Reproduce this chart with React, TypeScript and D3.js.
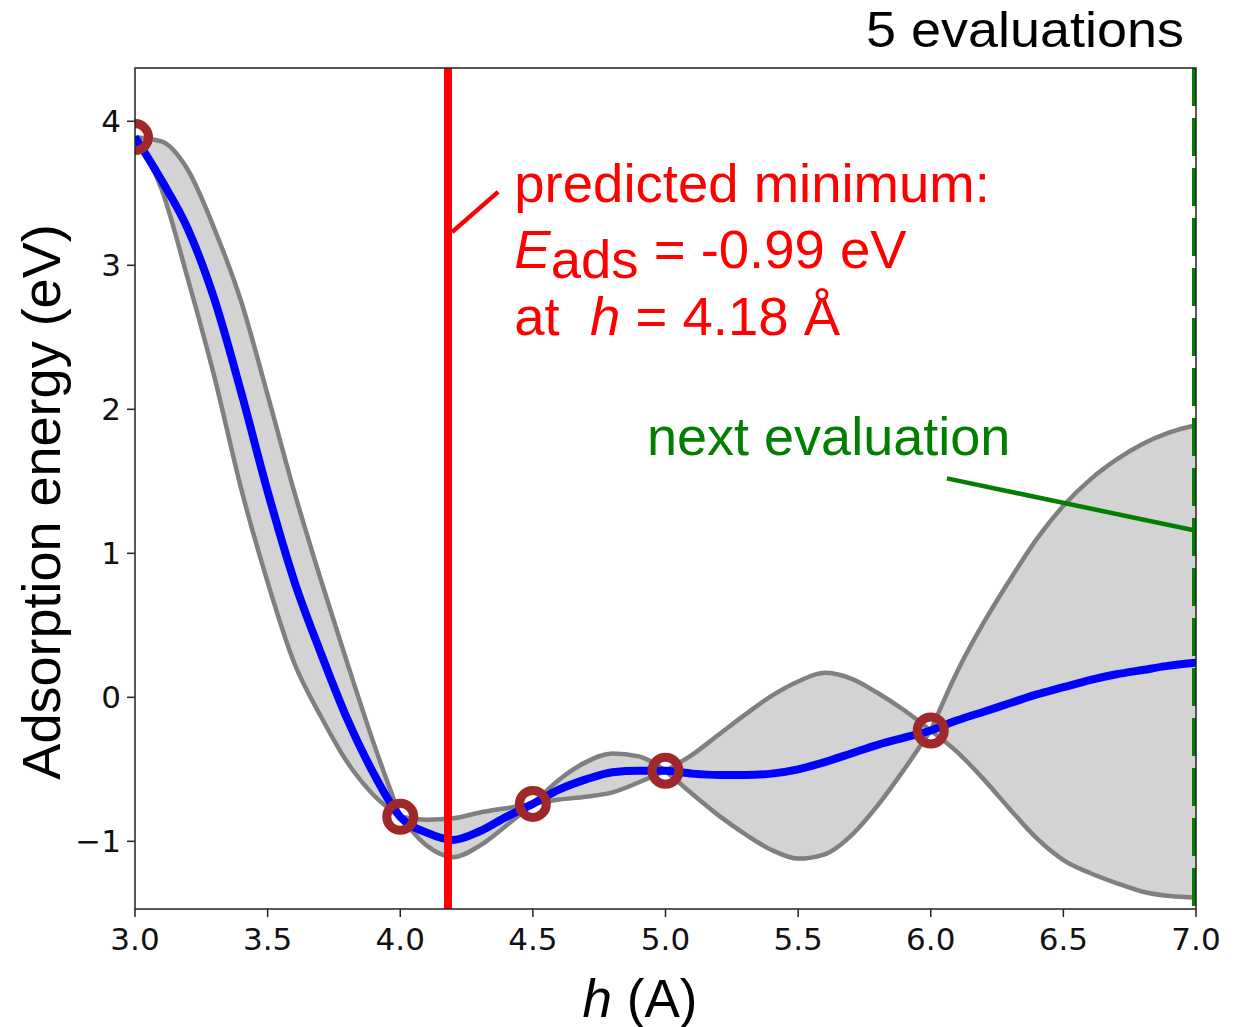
import React from 'react';
import * as d3 from 'd3';

// Grid of heights h (Å) on which the surrogate model is evaluated
const H = [
  3.0, 3.1, 3.2, 3.3, 3.4, 3.5, 3.6, 3.7, 3.8, 3.9,
  4.0, 4.1, 4.2, 4.3, 4.4, 4.5, 4.6, 4.7, 4.8, 4.9,
  5.0, 5.1, 5.2, 5.3, 5.4, 5.5, 5.6, 5.7, 5.8, 5.9,
  6.0, 6.1, 6.2, 6.3, 6.4, 6.5, 6.6, 6.7, 6.8, 6.9, 7.0,
];

// Posterior mean of the adsorption energy (eV)
const MEAN = [
  3.89, 3.59, 3.25, 2.76, 2.12, 1.43, 0.81, 0.31, -0.15, -0.53,
  -0.83, -0.94, -0.99, -0.93, -0.83, -0.74, -0.64, -0.57, -0.52, -0.51,
  -0.51, -0.53, -0.54, -0.54, -0.53, -0.50, -0.45, -0.39, -0.33, -0.28,
  -0.23, -0.16, -0.10, -0.04, 0.02, 0.07, 0.12, 0.16, 0.19, 0.22, 0.24,
];

// Upper edge of the confidence band (eV)
const UPPER = [
  3.89, 3.86, 3.66, 3.25, 2.75, 2.10, 1.43, 0.82, 0.24, -0.32,
  -0.83, -0.85, -0.84, -0.80, -0.77, -0.74, -0.57, -0.45, -0.39, -0.41,
  -0.51, -0.40, -0.26, -0.12, 0.01, 0.11, 0.17, 0.13, 0.03, -0.09,
  -0.23, 0.18, 0.52, 0.82, 1.10, 1.33, 1.51, 1.65, 1.76, 1.84, 1.89,
];

// Lower edge of the confidence band (eV)
const LOWER = [
  3.89, 3.53, 2.90, 2.22, 1.45, 0.80, 0.24, -0.13, -0.45, -0.68,
  -0.83, -1.03, -1.11, -1.03, -0.89, -0.74, -0.71, -0.69, -0.66, -0.59,
  -0.51, -0.67, -0.82, -0.95, -1.06, -1.12, -1.09, -0.96, -0.75, -0.50,
  -0.23, -0.38, -0.57, -0.78, -0.98, -1.13, -1.22, -1.29, -1.35, -1.38, -1.39,
];

// Evaluated DFT points
const OBS_H = [3.0, 4.0, 4.5, 5.0, 6.0];
const OBS_E = [3.89, -0.83, -0.74, -0.51, -0.23];

const X_TICKS = [3.0, 3.5, 4.0, 4.5, 5.0, 5.5, 6.0, 6.5, 7.0];
const Y_TICKS = [-1, 0, 1, 2, 3, 4];

const PRED_H = 4.18;
const PRED_E = -0.99;
const NEXT_H = 7.0;

const SANS = '"Liberation Sans", Arial, sans-serif';
const TICK_FONT = '"DejaVu Sans", sans-serif';

export default function App() {
  const W = 1238;
  const Ht = 1027;
  const left = 135, right = 1196, top = 68, bottom = 909;

  const x = d3.scaleLinear().domain([3, 7]).range([left, right]);
  const y = d3.scaleLinear().domain([-1.47, 4.37]).range([bottom, top]);

  // The band pinches at every evaluated point, so the smooth curves are
  // built piecewise between consecutive evaluations.
  const breaks = OBS_H.map(h => H.indexOf(h)).concat([H.length - 1]);
  const segments: number[][] = [];
  for (let k = 0; k < breaks.length - 1; k++) {
    segments.push(d3.range(breaks[k], breaks[k + 1] + 1));
  }

  const area = d3.area<number>()
    .x(i => x(H[i]))
    .y0(i => y(LOWER[i]))
    .y1(i => y(UPPER[i]))
    .curve(d3.curveMonotoneX);
  const segLine = (vals: number[]) =>
    d3.line<number>().x(i => x(H[i])).y(i => y(vals[i])).curve(d3.curveMonotoneX);
  const allIdx = H.map((_, i) => i);

  const fmtX = d3.format('.1f');
  const fmtY = (v: number) => (v < 0 ? '\u2212' + Math.abs(v) : String(v));

  return (
    <svg width={W} height={Ht} style={{ position: 'absolute', left: 0, top: 0, background: '#fff' }}>
      <defs>
        <clipPath id="plot-area">
          <rect x={left} y={top} width={right - left} height={bottom - top} />
        </clipPath>
      </defs>

      <g clipPath="url(#plot-area)">
        {/* confidence band */}
        {segments.map((s, k) => (
          <path key={'a' + k} d={area(s) || ''} fill="#d3d3d3" stroke="#d3d3d3" strokeWidth={0.5} />
        ))}
        {segments.map((s, k) => (
          <g key={'e' + k}>
            <path d={segLine(UPPER)(s) || ''} fill="none" stroke="#808080" strokeWidth={4.5} strokeLinejoin="round" />
            <path d={segLine(LOWER)(s) || ''} fill="none" stroke="#808080" strokeWidth={4.5} strokeLinejoin="round" />
          </g>
        ))}

        {/* posterior mean */}
        <path d={segLine(MEAN)(allIdx) || ''} fill="none" stroke="#0000ff" strokeWidth={8} strokeLinejoin="round" />

        {/* evaluated points */}
        {OBS_H.map((h, i) => (
          <circle key={i} cx={x(h)} cy={y(OBS_E[i])} r={13.5} fill="none" stroke="#a0282a" strokeWidth={9} />
        ))}

        {/* predicted minimum */}
        <line x1={x(PRED_H)} x2={x(PRED_H)} y1={top} y2={bottom} stroke="#ff0000" strokeWidth={8} />

        {/* next evaluation */}
        <line x1={x(NEXT_H) - 2} x2={x(NEXT_H) - 2} y1={top} y2={bottom} stroke="#007f00"
          strokeWidth={4} strokeDasharray="38 12" />
      </g>

      {/* spines */}
      <rect x={left} y={top} width={right - left} height={bottom - top} fill="none" stroke="#222" strokeWidth={1.5} />

      {/* x axis ticks */}
      {X_TICKS.map(t => (
        <g key={'x' + t}>
          <line x1={x(t)} x2={x(t)} y1={bottom} y2={bottom + 8} stroke="#222" strokeWidth={1.5} />
          <text x={x(t)} y={950} textAnchor="middle" fontFamily={TICK_FONT} fontSize={31} fill="#111">
            {fmtX(t)}
          </text>
        </g>
      ))}

      {/* y axis ticks */}
      {Y_TICKS.map(t => (
        <g key={'y' + t}>
          <line x1={left - 8} x2={left} y1={y(t)} y2={y(t)} stroke="#222" strokeWidth={1.5} />
          <text x={left - 14} y={y(t) + 11} textAnchor="end" fontFamily={TICK_FONT} fontSize={31} fill="#111">
            {fmtY(t)}
          </text>
        </g>
      ))}

      {/* axis labels */}
      <text x={640} y={1017} textAnchor="middle" fontFamily={SANS} fontSize={53} fill="#000">
        <tspan fontStyle="italic">h</tspan> (A)
      </text>
      <text transform="translate(60,502) rotate(-90)" textAnchor="middle" fontFamily={SANS} fontSize={54} fill="#000">
        Adsorption energy (eV)
      </text>

      {/* title */}
      <text x={1184} y={47} textAnchor="end" fontFamily={SANS} fontSize={50} fill="#000"
        textLength={318} lengthAdjust="spacingAndGlyphs">
        5 evaluations
      </text>

      {/* predicted-minimum annotation */}
      <line x1={x(PRED_H) + 4} y1={y(3.23)} x2={x(4.369)} y2={y(3.51)} stroke="#ff0000" strokeWidth={4.5} />
      <g fontFamily={SANS} fontSize={54.5} fill="#ff0000">
        <text x={x(4.43)} y={202}>predicted minimum:</text>
        <text x={x(4.43)} y={268}>
          <tspan fontStyle="italic">E</tspan>
          <tspan dy={10}>ads</tspan>
          <tspan dy={-10}>{` = ${PRED_E.toFixed(2)} eV`}</tspan>
        </text>
        <text x={x(4.43)} y={335}>
          {'at\u00A0 '}<tspan fontStyle="italic">h</tspan>{` = ${PRED_H.toFixed(2)} \u00C5`}
        </text>
      </g>

      {/* next-evaluation annotation */}
      <line x1={x(6.061)} y1={y(1.52)} x2={x(NEXT_H) - 2} y2={y(1.16)} stroke="#007f00" strokeWidth={4.5} />
      <text x={647} y={455} fontFamily={SANS} fontSize={54} fill="#007f00">next evaluation</text>
    </svg>
  );
}
